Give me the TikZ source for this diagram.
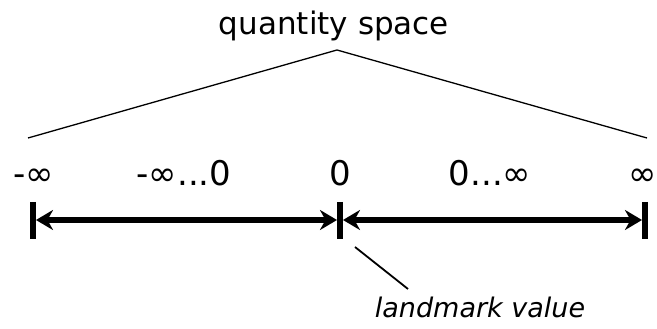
\documentclass[tikz,border=0pt]{standalone}
\usepackage{fontspec}
\setmainfont{DejaVu Sans}
\usetikzlibrary{arrows.meta}
\begin{document}
\begin{tikzpicture}[x=1pt,y=1pt,
  lbl/.style={anchor=base,inner sep=0pt,font=\fontsize{34}{40}\selectfont},
  tickmark/.style={line width=6pt},
  span/.style={line width=5.5pt,{Stealth[length=17pt,width=20pt]}-{Stealth[length=17pt,width=20pt]},shorten <=3pt,shorten >=3pt},
  thin/.style={line width=1.3pt}]
\useasboundingbox (0,0) rectangle (657,329);
\node[anchor=base,inner sep=0pt,font=\fontsize{31}{37}\selectfont] (qs) at (334,294) {quantity space};
\coordinate (apex) at (337,279);
\coordinate (le) at (28,191);
\coordinate (re) at (647,191);
\draw[thin] (le) -- (apex) -- (re);
\node[lbl] (l1) at (34,143) {-∞};
\node[lbl] (l2) at (184,143) {-∞...0};
\node[lbl] (l3) at (340,143) {0};
\node[lbl] (l4) at (490,143) {0...∞};
\node[lbl] (l5) at (643,143) {∞};
\coordinate (t1) at (33,109);
\coordinate (t2) at (340,109);
\coordinate (t3) at (645,109);
\foreach \t in {t1,t2,t3}{\draw[tickmark] ([yshift=18pt]\t) -- ([yshift=-19pt]\t);}
\draw[span] (t1) -- (t2);
\draw[span] (t2) -- (t3);
\coordinate (lm1) at (355,82);
\node[anchor=base,inner sep=0pt,font=\fontsize{27}{32}\selectfont\itshape] (lm) at (480,11) {landmark value};
\draw[line width=1.8pt] (lm1) -- (408,40);
\end{tikzpicture}
\end{document}
